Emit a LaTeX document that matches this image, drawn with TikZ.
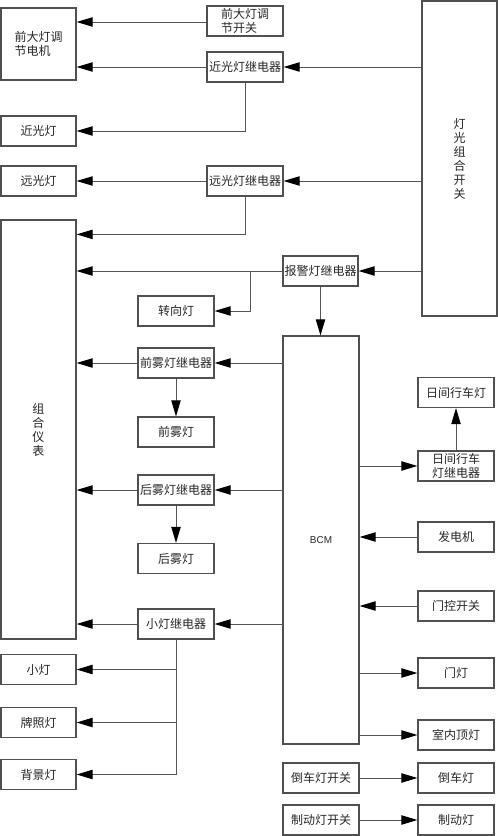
\documentclass[tikz,border=0pt]{standalone}
\usepackage{fontspec}
\setmainfont{Noto Sans CJK SC}
\newfontfamily\latinsans{Liberation Sans}
\usetikzlibrary{arrows.meta,calc}
\definecolor{boxc}{HTML}{505050}
\definecolor{linec}{HTML}{555555}
\tikzset{
  blk/.style={draw=boxc,line width=0.9pt,inner sep=0pt,minimum width=57pt,minimum height=22.5pt,font=\fontsize{9}{10.5}\selectfont,text=black!85},
  arr/.style={draw=linec,line width=0.75pt,-{Triangle[length=12pt,width=7pt,color=black]}},
  ln/.style={draw=linec,line width=0.75pt},
}
\begin{document}
\begin{tikzpicture}[x=0.75pt,y=-0.75pt]
\useasboundingbox (0,0) rectangle (498,836);
% left column
\node[blk,minimum width=56.25pt,minimum height=54pt,align=left] (motor) at (38.5,44) {前大灯调\\节电机};
\node[blk,minimum width=56.25pt] (low) at (38.5,131) {近光灯};
\node[blk,minimum width=56.25pt] (high) at (38.5,181) {远光灯};
\node[blk,minimum width=56.25pt,minimum height=314.25pt,align=center,font=\fontsize{9}{10.5}\selectfont] (cluster) at (38.5,429.5) {组\\合\\仪\\表};
\node[blk,minimum width=56.25pt] (small) at (38.5,669.5) {小灯};
\node[blk,minimum width=56.25pt] (plate) at (38.5,722.5) {牌照灯};
\node[blk,minimum width=56.25pt] (back) at (38.5,774.5) {背景灯};
% middle column
\node[blk,align=left] (headsw) at (245,21) {前大灯调\\节开关};
\node[blk] (lowrel) at (245,67) {近光灯继电器};
\node[blk] (highrel) at (245,181) {远光灯继电器};
\node[blk] (turn) at (176,311) {转向灯};
\node[blk] (ffogrel) at (176,363) {前雾灯继电器};
\node[blk] (ffog) at (176,432) {前雾灯};
\node[blk] (rfogrel) at (176,490) {后雾灯继电器};
\node[blk] (rfog) at (176,558.5) {后雾灯};
\node[blk] (smallrel) at (176,624) {小灯继电器};
% BCM column
\node[blk,minimum width=56.25pt] (alarmrel) at (320.5,271) {报警灯继电器};
\node[blk,minimum height=306pt,font=\latinsans\fontsize{7.5}{9}\selectfont] (bcm) at (321,540) {BCM};
\node[blk] (revsw) at (321,778) {倒车灯开关};
\node[blk] (brksw) at (321,820) {制动灯开关};
% right column
\node[blk,minimum width=56.25pt,minimum height=236.25pt,align=center] (combsw) at (459.5,158.5) {灯\\光\\组\\合\\开\\关};
\node[blk] (drl) at (456,392.5) {日间行车灯};
\node[blk,align=center] (drlrel) at (456,466) {日间行车\\灯继电器};
\node[blk] (gen) at (456,537) {发电机};
\node[blk] (doorsw) at (456,606) {门控开关};
\node[blk] (doorlamp) at (456,673) {门灯};
\node[blk] (dome) at (456,735) {室内顶灯};
\node[blk] (rev) at (456,778) {倒车灯};
\node[blk] (brk) at (456,820) {制动灯};
% connectors
\draw[arr] ([yshift=-0.75pt]headsw.west) -- ([yshift=-0.75pt]headsw.west -| motor.east);
\draw[arr] (lowrel.west) -- (lowrel.west -| motor.east);
\draw[arr] (lowrel.south) |- (low.east);
\draw[arr] (combsw.west |- lowrel.east) -- (lowrel.east);
\draw[arr] (combsw.west |- highrel.east) -- (highrel.east);
\draw[arr] (highrel.west) -- (high.east);
\coordinate (cl1) at ($(cluster.north east)+(0,15)$);
\draw[arr] (highrel.south) |- (cl1);
\draw[arr] (combsw.west |- alarmrel.east) -- (alarmrel.east);
\draw[arr] (alarmrel.west) -- (alarmrel.west -| cluster.east);
\coordinate (br1) at ($(alarmrel.west)+(-32,0)$);
\draw[arr] (br1) |- (turn.east);
\draw[arr] (alarmrel.south) -- (alarmrel.south |- bcm.north);
\draw[arr] (bcm.west |- ffogrel.east) -- (ffogrel.east);
\draw[arr] (ffogrel.west) -- (ffogrel.west -| cluster.east);
\draw[arr] (ffogrel.south) -- (ffog.north);
\draw[arr] (bcm.west |- rfogrel.east) -- (rfogrel.east);
\draw[arr] (rfogrel.west) -- (rfogrel.west -| cluster.east);
\draw[arr] (rfogrel.south) -- (rfog.north);
\draw[arr] (bcm.west |- smallrel.east) -- (smallrel.east);
\draw[arr] (smallrel.west) -- (smallrel.west -| cluster.east);
\draw[arr] (smallrel.south) |- (small.east);
\draw[arr] (smallrel.south) |- (plate.east);
\draw[arr] (smallrel.south) |- (back.east);
\draw[arr] (bcm.east |- drlrel.west) -- (drlrel.west);
\draw[arr] (drlrel.north) -- (drl.south);
\draw[arr] (gen.west) -- (gen.west -| bcm.east);
\draw[arr] (doorsw.west) -- (doorsw.west -| bcm.east);
\draw[arr] (bcm.east |- doorlamp.west) -- (doorlamp.west);
\draw[arr] (bcm.east |- dome.west) -- (dome.west);
\draw[arr] (revsw.east) -- (rev.west);
\draw[arr] (brksw.east) -- (brk.west);
\end{tikzpicture}
\end{document}
